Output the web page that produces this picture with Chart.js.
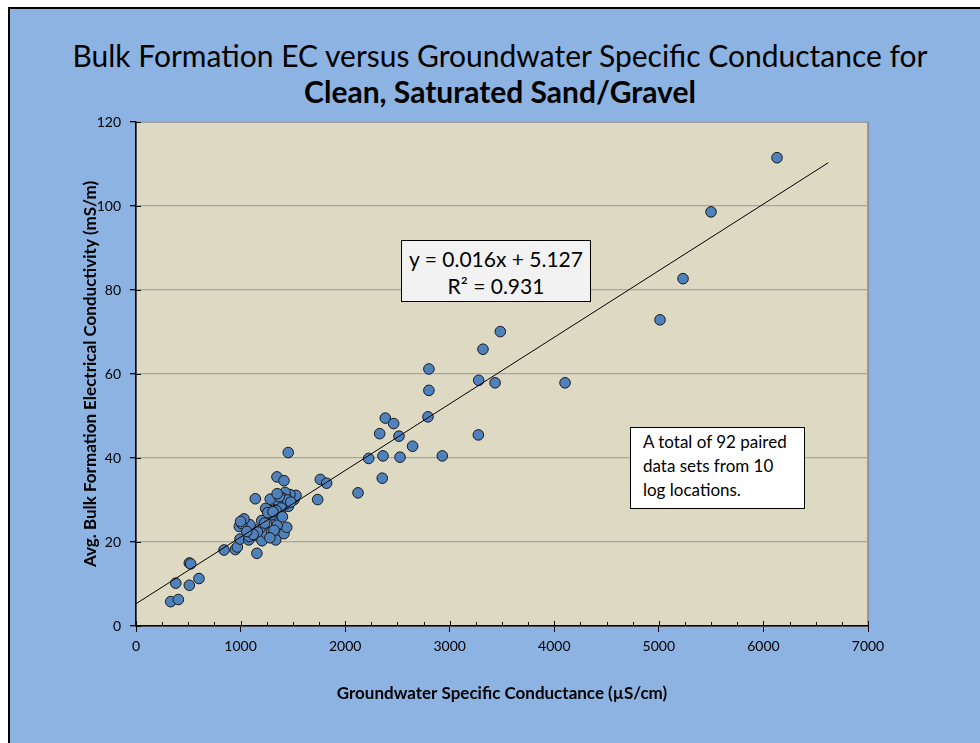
<!DOCTYPE html>
<html>
<head>
<meta charset="utf-8">
<script src="https://cdn.jsdelivr.net/npm/chart.js@4.4.1/dist/chart.umd.min.js"></script>
<style>
  body { margin: 0; background: #fff; width: 980px; height: 743px; overflow: hidden; position: relative; font-family: Lato, "Open Sans", sans-serif; }
  #frame { position: absolute; left: 8px; top: 7px; width: 990px; height: 760px; background: #8db3e2; border-left: 2px solid #000; border-top: 2px solid #000; }
  #chart { position: absolute; left: 0; top: 0; }
  .title { position: absolute; left: 0; width: 1000px; text-align: center; color: #000; line-height: 36px; }
  #t1 { top: 37px; font-size: 30px; }
  #t2 { top: 73px; font-size: 30px; font-weight: bold; }
  .box { position: absolute; border: 1px solid #000; color: #000; }
  #eq { left: 401px; top: 240px; width: 190px; height: 62px; background: #f2f2f2; text-align: center; font-size: 21px; line-height: 27px; padding-top: 4px; box-sizing: border-box; }
  #note { left: 630px; top: 427px; width: 175px; height: 82px; background: #fff; font-size: 17px; line-height: 24px; padding: 2px 0 0 12px; box-sizing: border-box; }
</style>
</head>
<body>
<div id="frame"></div>
<div class="title" id="t1">Bulk Formation EC versus Groundwater Specific Conductance for</div>
<div class="title" id="t2">Clean, Saturated Sand/Gravel</div>
<canvas id="chart" width="980" height="743"></canvas>
<div class="box" id="eq">y = 0.016x + 5.127<br>R² = 0.931</div>
<div class="box" id="note">A total of 92 paired<br>data sets from 10<br>log locations.</div>
<script>
// groundwater specific conductance (uS/cm)
const gwSC = [
  332, 405, 380, 510, 602, 510, 523, 842, 950, 969, 1156,
  995, 1078, 1081, 1148, 1205, 1243, 1298, 1336, 1415, 1441, 1339, 1339, 1186, 1202,
  1090, 988, 1011, 1033, 1383, 1457, 1364, 1431, 1387, 1339, 1281, 1240, 1332, 1284,
  1511, 1530, 1473, 1425, 1425, 1141, 1348, 1415, 1456, 1737, 1763, 1823,
  2123, 2225, 2362, 2525, 2929, 2645, 2330, 2515, 3274, 2384, 2464, 2792, 2801, 2801,
  3277, 3434, 3318, 3484, 2355, 4103, 5011, 5231, 5499, 6130,
  1300, 1350, 1320, 1280, 1400, 1450, 1370, 1260, 1310, 1160, 1230, 1120, 1060, 1400,
  1480, 1350, 1000
];
// avg bulk formation EC (mS/m)
const bulkEC = [
  5.8, 6.3, 10.2, 9.7, 11.3, 15.0, 14.8, 18.1, 18.2, 18.8, 17.3,
  20.7, 20.5, 21.3, 21.6, 20.3, 22.1, 22.5, 20.5, 22.0, 23.5, 23.6, 25.0, 23.3, 25.1,
  24.1, 23.7, 24.4, 25.5, 26.7, 28.5, 28.9, 29.1, 28.5, 27.5, 27.5, 28.0, 30.1, 30.2,
  30.1, 31.1, 31.3, 31.1, 31.8, 30.3, 35.5, 34.6, 41.3, 30.1, 34.9, 34.0,
  31.7, 39.9, 40.5, 40.2, 40.5, 42.8, 45.8, 45.2, 45.5, 49.5, 48.2, 49.8, 56.1, 61.2,
  58.5, 57.9, 65.9, 70.1, 35.2, 57.9, 72.9, 82.7, 98.6, 111.5,
  26.5, 24.0, 22.8, 21.0, 30.5, 30.0, 30.8, 27.0, 27.2, 22.4, 24.5, 21.8, 22.5, 26.0,
  29.5, 31.5, 24.9
];
// trendline end points
const trendX = [0, 6620];
const trendY = [5.3, 110.3];

const xTicks = [0, 1000, 2000, 3000, 4000, 5000, 6000, 7000];
const yTicks = [0, 20, 40, 60, 80, 100, 120];

const scatterPts = gwSC.map((x, i) => ({ x: x, y: bulkEC[i] }));
const trendPts = trendX.map((x, i) => ({ x: x, y: trendY[i] }));

const plotBg = {
  id: 'plotBg',
  beforeDraw(chart) {
    const a = chart.chartArea, c = chart.ctx;
    c.save();
    c.fillStyle = '#ddd9c3';
    c.fillRect(a.left, a.top, a.right - a.left, a.bottom - a.top);
    c.strokeStyle = '#868686';
    c.lineWidth = 1.5;
    c.strokeRect(a.left, a.top, a.right - a.left, a.bottom - a.top);
    c.restore();
  },
  afterDatasetsDraw(chart) {
    // minor ticks inside the plot area
    const c = chart.ctx, xs = chart.scales.x, ys = chart.scales.y;
    c.save();
    c.strokeStyle = '#000';
    c.lineWidth = 1;
    c.beginPath();
    for (let v = 250; v < 7000; v += 250) {
      if (v % 1000 === 0) continue;
      const px = Math.round(xs.getPixelForValue(v)) + 0.5;
      c.moveTo(px, ys.bottom); c.lineTo(px, ys.bottom - 4);
    }
    for (let v = 0; v <= 7000; v += 1000) {
      const px = Math.round(xs.getPixelForValue(v)) + 0.5;
      c.moveTo(px, ys.bottom); c.lineTo(px, ys.bottom - 5);
    }
    for (let v = 0; v <= 120; v += 20) {
      const py = Math.round(ys.getPixelForValue(v)) + 0.5;
      c.moveTo(xs.left, py); c.lineTo(xs.left + 5, py);
    }
    c.stroke();
    c.restore();
  }
};

const tickFont = { family: 'Lato, "Open Sans", sans-serif', size: 14 };
const titleFont = { family: 'Lato, "Open Sans", sans-serif', size: 17, weight: 'bold' };

new Chart(document.getElementById('chart').getContext('2d'), {
  type: 'scatter',
  data: {
    datasets: [
      {
        type: 'line',
        data: trendPts,
        borderColor: '#000',
        borderWidth: 1,
        pointRadius: 0,
        fill: false,
        order: 0
      },
      {
        data: scatterPts,
        backgroundColor: '#4f81bd',
        borderColor: '#1a1a1a',
        borderWidth: 1,
        pointRadius: 5.3,
        order: 1
      }
    ]
  },
  options: {
    responsive: false,
    animation: false,
    events: [],
    layout: { padding: { left: 76, right: 112, top: 122, bottom: 37 } },
    plugins: { legend: { display: false }, tooltip: { enabled: false } },
    scales: {
      x: {
        type: 'linear',
        min: 0, max: 7000,
        afterBuildTicks: s => { s.ticks = xTicks.map(v => ({ value: v })); },
        afterFit: s => { s.height = 80; },
        ticks: { color: '#000', font: tickFont, padding: 6, maxRotation: 0, callback: v => String(v) },
        grid: { display: true, drawOnChartArea: false, drawTicks: true, tickLength: 6, color: '#000' },
        border: { color: '#000', width: 1.5 },
        title: { display: true, text: 'Groundwater Specific Conductance (µS/cm)', color: '#000', font: titleFont, padding: { top: 4, bottom: 2 } }
      },
      y: {
        type: 'linear',
        min: 0, max: 120,
        afterBuildTicks: s => { s.ticks = yTicks.map(v => ({ value: v })); },
        afterFit: s => { s.width = 60; },
        ticks: { color: '#000', font: tickFont, padding: 9, callback: v => String(v) },
        grid: { color: '#a6a6a6', lineWidth: 1.3, drawTicks: true, tickLength: 6, tickColor: '#000' },
        border: { color: '#000', width: 1.5 },
        title: { display: true, text: 'Avg. Bulk Formation Electrical Conductivity (mS/m)', color: '#000', font: titleFont, padding: { top: 4, bottom: 4 } }
      }
    }
  },
  plugins: [plotBg]
});
</script>
</body>
</html>
